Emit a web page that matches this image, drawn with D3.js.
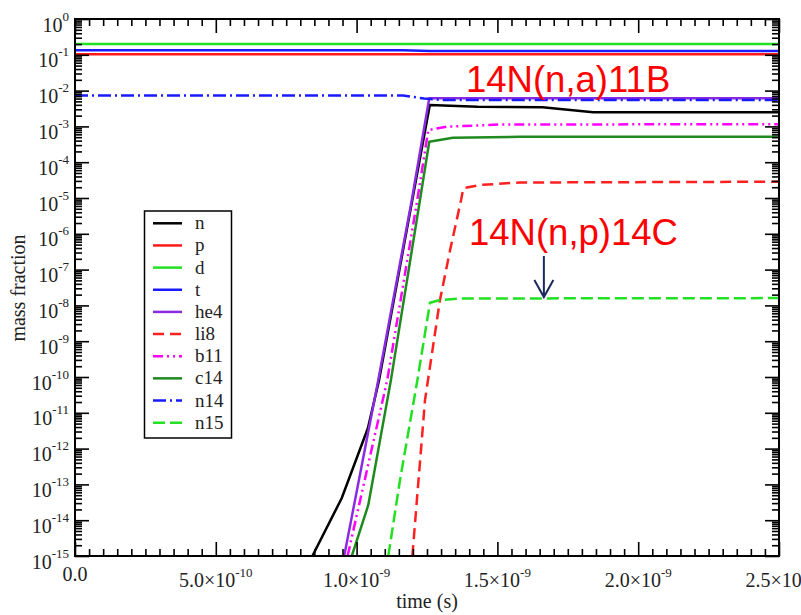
<!DOCTYPE html>
<html><head><meta charset="utf-8">
<script src="https://cdn.jsdelivr.net/npm/d3@7"></script>
<style>body{margin:0;background:#fff}svg{display:block}</style>
</head><body>
<script>
// ---- data (time in s, mass fraction) ----
const seriesNames = ["n","p","d","t","he4","li8","b11","c14","n14","n15"];
const nData   = [[0.843e-9,1e-15],[0.947e-9,4.1e-14],[1.04e-9,3.7e-12],[1.08e-9,8.3e-11],[1.26e-9,3.97e-3],[1.43e-9,3.55e-3],[1.66e-9,3.42e-3],[1.84e-9,2.48e-3],[2.5e-9,2.5e-3]];
const pData   = [[0,0.104],[2.5e-9,0.104]];
const dData   = [[0,0.2],[2.5e-9,0.2]];
const tData   = [[0,0.135],[1.165e-9,0.135],[1.26e-9,0.128],[2.5e-9,0.128]];
const he4Data = [[0.956e-9,1e-15],[1.077e-9,8.3e-11],[1.196e-9,8.8e-6],[1.258e-9,6.1e-3],[2.5e-9,6.1e-3]];
const li8Data = [[1.198e-9,1e-15],[1.243e-9,2.3e-11],[1.296e-9,1.41e-8],[1.332e-9,3.5e-7],[1.371e-9,8.8e-6],[1.379e-9,1.87e-5],[1.438e-9,2.31e-5],[1.58e-9,2.71e-5],[2.5e-9,2.85e-5]];
const b11Data = [[0.968e-9,1e-15],[1.109e-9,8.3e-11],[1.2155e-9,8.8e-6],[1.2546e-9,7.9e-4],[1.32e-9,9.8e-4],[1.51e-9,1.13e-3],[2.5e-9,1.15e-3]];
const c14Data = [[0.983e-9,1e-15],[1.0415e-9,2.66e-14],[1.122e-9,8.3e-11],[1.225e-9,8.8e-6],[1.258e-9,3.74e-4],[1.342e-9,4.83e-4],[1.58e-9,5.1e-4],[2.5e-9,5.15e-4]];
const n14Data = [[0,7.3e-3],[1.165e-9,7.3e-3],[1.24e-9,6.0e-3],[1.3e-9,5.5e-3],[2.5e-9,5.5e-3]];
const n15Data = [[1.1125e-9,1e-15],[1.154e-9,1.3e-13],[1.216e-9,8.3e-11],[1.2606e-9,1.19e-8],[1.296e-9,1.41e-8],[1.367e-9,1.56e-8],[2.5e-9,1.6e-8]];
const seriesData = [nData,pData,dData,tData,he4Data,li8Data,b11Data,c14Data,n14Data,n15Data];

const xTickValues = [0,5e-10,1e-9,1.5e-9,2e-9,2.5e-9];
const xTickMant = ["0.0","5.0","1.0","1.5","2.0","2.5"];
const xTickExp  = [null,"-10","-9","-9","-9","-9"];
const yTickExps = [0,-1,-2,-3,-4,-5,-6,-7,-8,-9,-10,-11,-12,-13,-14,-15];

const annotations = ["14N(n,a)11B","14N(n,p)14C"];

// ---- styles ----
const colors = {n:"#000000",p:"#ff1a1a",d:"#22e022",t:"#1a1aff",he4:"#8a2be2",li8:"#ff2020",b11:"#ff00ff",c14:"#1f8a1f",n14:"#1a1aff",n15:"#22e022"};
const dashes = {li8:"11,6",n15:"12,5",b11:"10,4,2,4,2,4",n14:"13,4,2,4"};

const W=801,H=615;
const m={l:75,r:779,t:19,b:556};
const svg=d3.select("body").append("svg").attr("width",W).attr("height",H)
  .style("font-family","'Liberation Serif','Times New Roman',serif");

const x=d3.scaleLinear().domain([0,2.5e-9]).range([m.l,m.r]);
const y=d3.scaleLog().domain([1e-15,1]).range([m.b,m.t]);

svg.append("defs").append("clipPath").attr("id","clip")
  .append("rect").attr("x",m.l).attr("y",m.t).attr("width",m.r-m.l).attr("height",m.b-m.t);

// lines
const line=d3.line().x(d=>x(d[0])).y(d=>y(d[1]));
const g=svg.append("g").attr("clip-path","url(#clip)");
seriesNames.forEach((s,i)=>{
  g.append("path").datum(seriesData[i]).attr("d",line)
    .attr("fill","none").attr("stroke",colors[s]).attr("stroke-width",2.5)
    .attr("stroke-dasharray",dashes[s]||null).attr("stroke-linejoin","round");
});

// axes ticks
const minorX=d3.range(0,51).map(k=>k*5e-11).filter(v=>Math.abs(v/5e-10-Math.round(v/5e-10))>1e-6);
const minorY=[];
for(let e=-15;e<0;e++){for(let k=2;k<=9;k++)minorY.push(k*Math.pow(10,e));}
const majorY=yTickExps.map(e=>Math.pow(10,e));

function styleAxis(sel){sel.select(".domain").remove();sel.selectAll("line").attr("stroke","#000").attr("stroke-width",1.6);sel.selectAll("text").remove();}
svg.append("g").attr("transform",`translate(0,${m.b})`).call(d3.axisBottom(x).tickValues(xTickValues).tickSize(-14).tickFormat("")).call(styleAxis);
svg.append("g").attr("transform",`translate(0,${m.b})`).call(d3.axisBottom(x).tickValues(minorX).tickSize(-7).tickFormat("")).call(styleAxis);
svg.append("g").attr("transform",`translate(0,${m.t})`).call(d3.axisTop(x).tickValues(xTickValues).tickSize(-14).tickFormat("")).call(styleAxis);
svg.append("g").attr("transform",`translate(0,${m.t})`).call(d3.axisTop(x).tickValues(minorX).tickSize(-7).tickFormat("")).call(styleAxis);
svg.append("g").attr("transform",`translate(${m.l},0)`).call(d3.axisLeft(y).tickValues(majorY).tickSize(-14).tickFormat("")).call(styleAxis);
svg.append("g").attr("transform",`translate(${m.l},0)`).call(d3.axisLeft(y).tickValues(minorY).tickSize(-7).tickFormat("")).call(styleAxis);
svg.append("g").attr("transform",`translate(${m.r},0)`).call(d3.axisRight(y).tickValues(majorY).tickSize(-14).tickFormat("")).call(styleAxis);
svg.append("g").attr("transform",`translate(${m.r},0)`).call(d3.axisRight(y).tickValues(minorY).tickSize(-7).tickFormat("")).call(styleAxis);

// frame
svg.append("rect").attr("x",m.l).attr("y",m.t).attr("width",m.r-m.l).attr("height",m.b-m.t)
  .attr("fill","none").attr("stroke","#000").attr("stroke-width",2);

// y tick labels
yTickExps.forEach(e=>{
  const t=svg.append("text").attr("x",69).attr("y",y(Math.pow(10,e))+12.5)
    .attr("text-anchor","end").attr("font-size",20).attr("fill","#222");
  t.append("tspan").text("10");
  t.append("tspan").attr("font-size",13).attr("dy",-11).text(String(e));
});
// x tick labels
xTickValues.forEach((v,i)=>{
  const t=svg.append("text").attr("x",x(v)).attr("y",xTickExp[i]?587:581)
    .attr("text-anchor","middle").attr("font-size",20).attr("fill","#222");
  t.append("tspan").text(xTickMant[i]+(xTickExp[i]?"×10":""));
  if(xTickExp[i]) t.append("tspan").attr("font-size",13).attr("dy",-10).text(xTickExp[i]);
});

// axis titles
svg.append("text").attr("x",(m.l+m.r)/2).attr("y",608).attr("text-anchor","middle")
  .attr("font-size",20).attr("fill","#222").text("time (s)");
svg.append("text").attr("transform","translate(25,288) rotate(-90)").attr("text-anchor","middle")
  .attr("font-size",20).attr("fill","#222").text("mass fraction");

// legend
const lg=svg.append("g");
lg.append("rect").attr("x",144.5).attr("y",211).attr("width",87).attr("height",227)
  .attr("fill","#fff").attr("stroke","#000").attr("stroke-width",1.5);
seriesNames.forEach((s,i)=>{
  const yy=223.3+i*22.15;
  lg.append("line").attr("x1",153).attr("x2",182).attr("y1",yy).attr("y2",yy)
    .attr("stroke",colors[s]).attr("stroke-width",2.5).attr("stroke-dasharray",dashes[s]||null);
  lg.append("text").attr("x",195).attr("y",yy+6).attr("font-size",19).attr("fill","#222").text(s);
});

// annotations
svg.append("text").attr("x",466).attr("y",92).attr("font-family","'Liberation Sans',Arial,sans-serif")
  .attr("font-size",36.5).attr("fill","#ff0000").text(annotations[0]);
svg.append("text").attr("x",469).attr("y",245).attr("font-family","'Liberation Sans',Arial,sans-serif")
  .attr("font-size",36.5).attr("fill","#ff0000").text(annotations[1]);
const ax=x(1.665e-9), ay=y(1.6e-8)-1;
svg.append("path").attr("d",`M${ax},${ay-41}L${ax},${ay}M${ax-9.5},${ay-17}L${ax},${ay}L${ax+9.5},${ay-17}`)
  .attr("fill","none").attr("stroke","#1a2a5e").attr("stroke-width",2);
</script>
</body></html>
